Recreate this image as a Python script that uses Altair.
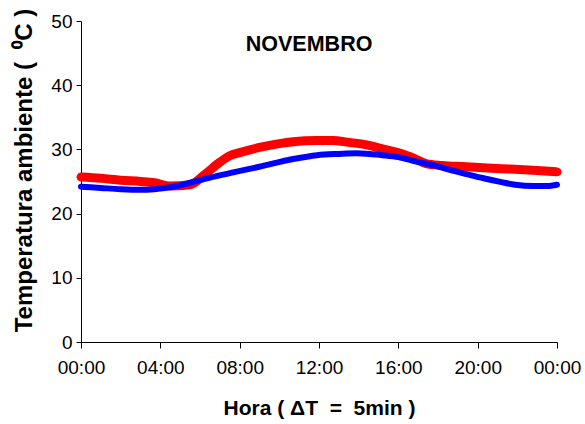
import altair as alt
import pandas as pd

# Hours of day (0-24) and readings
red_h = [0, 1, 2, 3, 3.7, 4.5, 5.5, 6.2, 7.0, 7.5, 8.0, 9.0, 10.0, 10.7, 11.9, 12.7, 13.5, 14.4, 15.2, 16.1, 16.8, 17.4, 18.2, 19.4, 20.5, 21.9, 23.0, 24.0]
red_v = [25.7, 25.5, 25.2, 25.0, 24.8, 24.3, 24.5, 26.0, 28.0, 29.0, 29.5, 30.3, 30.9, 31.2, 31.4, 31.4, 31.1, 30.7, 30.1, 29.4, 28.6, 27.8, 27.5, 27.3, 27.1, 26.9, 26.7, 26.5]

blue_h = [0, 1, 2, 3.0, 3.7, 4.5, 5.5, 6.5, 7.5, 9.0, 10.7, 11.9, 13.0, 13.9, 15.2, 16.0, 16.9, 17.8, 18.6, 19.5, 20.3, 21.2, 21.9, 22.8, 23.5, 24.0]
blue_v = [24.2, 24.0, 23.8, 23.7, 23.8, 24.1, 24.8, 25.6, 26.3, 27.3, 28.5, 29.1, 29.3, 29.4, 29.1, 28.8, 28.1, 27.5, 26.8, 26.1, 25.5, 24.9, 24.5, 24.3, 24.3, 24.5]

title_text = ["NOVEMBRO"]
title_h = [11.5]
title_v = [46.3]

red = pd.DataFrame({"h": red_h, "v": red_v})
blue = pd.DataFrame({"h": blue_h, "v": blue_v})
ttl = pd.DataFrame({"t": title_text, "h": title_h, "v": title_v})

FONT = "Liberation Sans"
NB = "\u00a0"

x_scale = alt.Scale(domain=[0, 24], nice=False, zero=False)
y_scale = alt.Scale(domain=[0, 50], nice=False)

x_axis = alt.Axis(
    values=[0, 4, 8, 12, 16, 20, 24],
    labelExpr="datum.value == 24 ? '00:00' : (datum.value < 10 ? '0' : '') + datum.value + ':00'",
    title="Hora ( \u0394T" + NB + NB + "=" + NB + NB + "5min )",
    grid=False, tickSize=6, labelPadding=10, titlePadding=20,
    labelFontSize=19, titleFontSize=21, titleFontWeight="bold",
    labelFont=FONT, titleFont=FONT, labelColor="black", titleColor="black",
    domainColor="black", tickColor="black", labelFlush=False,
)
y_axis = alt.Axis(
    values=[0, 10, 20, 30, 40, 50],
    title="Temperatura ambiente (" + NB + NB + "\u2070C )",
    grid=False, tickSize=5, labelPadding=4, titlePadding=14, titleY=149,
    labelFontSize=19, titleFontSize=24, titleFontWeight="bold",
    labelFont=FONT, titleFont=FONT, labelColor="black", titleColor="black",
    domainColor="black", tickColor="black",
)

red_line = alt.Chart(red).mark_line(color="#ff0000", strokeWidth=9, interpolate="monotone", strokeCap="round").encode(
    x=alt.X("h:Q", scale=x_scale, axis=x_axis),
    y=alt.Y("v:Q", scale=y_scale, axis=y_axis),
)
blue_line = alt.Chart(blue).mark_line(color="#0000ff", strokeWidth=6, interpolate="monotone", strokeCap="round").encode(
    x=alt.X("h:Q", scale=x_scale),
    y=alt.Y("v:Q", scale=y_scale),
)
title = alt.Chart(ttl).mark_text(font=FONT, fontSize=21.5, fontWeight="bold", color="black").encode(
    x=alt.X("h:Q", scale=x_scale),
    y=alt.Y("v:Q", scale=y_scale),
    text="t:N",
)

chart = alt.layer(red_line, blue_line, title).properties(
    width=476, height=321,
    autosize=alt.AutoSizeParams(type="none"),
    padding={"left": 81, "top": 21, "right": 28, "bottom": 82},
).configure_view(stroke=None)

chart.save("out.html", embed_options={"renderer": "svg", "actions": False})
